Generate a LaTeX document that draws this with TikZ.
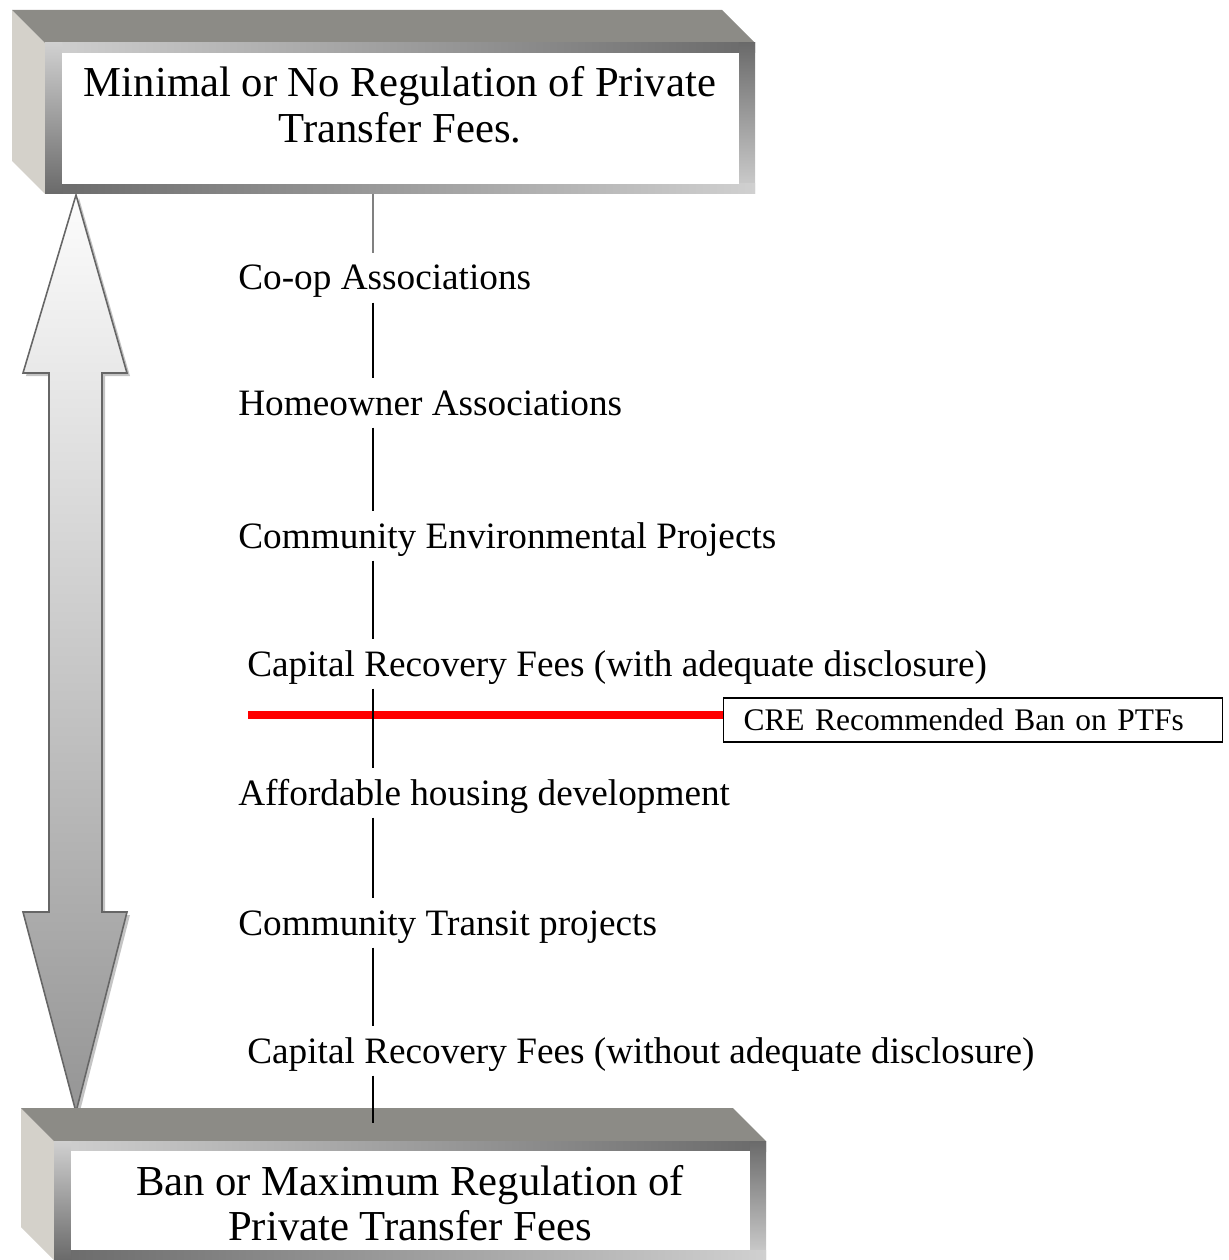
\documentclass[tikz,border=0pt]{standalone}
\usepackage{fontspec}
\setmainfont{Liberation Serif}
\usetikzlibrary{positioning}

\definecolor{slabtop}{HTML}{8C8B86}
\definecolor{slabside}{HTML}{D4D1CA}
\definecolor{frameL}{HTML}{D0D0D0}
\definecolor{frameD}{HTML}{6A6A6A}
\definecolor{arrowedge}{HTML}{666666}
\definecolor{arrowlow}{HTML}{959595}
\definecolor{arrowshadow}{HTML}{C4C4C4}

% 3D slab: front face from (#1,#2) to (#3,#4), 33 deep
\newcommand{\slab}[4]{%
  \fill[slabside] ({#1-33},{#2-33}) -- (#1,#2) -- (#1,#4) -- ({#1-33},{#4-33}) -- cycle;
  \fill[slabtop] ({#1-33},{#2-33}) -- ({#3-33},{#2-33}) -- (#3,#2) -- (#1,#2) -- cycle;
  \shade[left color=frameL, right color=frameD] (#1,#2) rectangle (#3,{#2+10});
  \shade[top color=frameD, bottom color=frameL] ({#3-16},#2) rectangle (#3,#4);
  \shade[left color=frameD, right color=frameL] (#1,{#4-10}) rectangle (#3,#4);
  \shade[top color=frameL, bottom color=frameD] (#1,#2) rectangle ({#1+17},#4);
  \fill[white] ({#1+17},{#2+10}) rectangle ({#3-16},{#4-10});
}

\tikzset{
  item/.style={anchor=base west, inner xsep=0pt, inner ysep=3pt,
    text height=18pt, text depth=4pt, font=\fontsize{21.2}{25}\selectfont},
  title/.style={align=center, inner sep=0pt, font=\fontsize{24.3}{25.9}\selectfont},
  spine/.style={line width=0.6pt},
  banbox/.style={draw, line width=0.6pt, anchor=west, align=left,
    text width=9.18cm, inner xsep=0.4cm, inner ysep=1pt, minimum height=0.88cm,
    font=\fontsize{17.9}{22}\selectfont},
  redbar/.style={red, line width=4pt},
}

\begin{document}
\begin{tikzpicture}[x=0.02cm, y=-0.02cm]
	\useasboundingbox (0,0) rectangle (1229,1260);
	% double arrow on the left
	\shadedraw[top color=white!99!black, bottom color=arrowlow, draw=arrowedge, line width=0.9pt,
		preaction={fill=arrowshadow, transform canvas={shift={(0.06cm,-0.06cm)}}}]
		(76,195) -- (127,373) -- (102,373) -- (102,912) -- (127,912) -- (76,1112)
		-- (23,912) -- (49,912) -- (49,373) -- (23,373) -- cycle;
	% the two slabs
	\slab{45}{43}{755}{194}
	\slab{54}{1141}{766}{1260}
	\node[title] (minreg) at (400,105) {Minimal or No Regulation of Private\\Transfer Fees.};
	\node[title] (maxreg) at (410,1203) {Ban or Maximum Regulation of\\Private Transfer Fees};
	\coordinate (topfoot) at (373,194);
	\coordinate (botfoot) at (373,1123);
	% items along the scale
	\node[item] (coop) at (238,290) {Co-op Associations};
	\node[item] (hoa) at (238,415) {Homeowner Associations};
	\node[item] (env) at (238,548) {Community Environmental Projects};
	\node[item] (crfwith) at (247,676) {Capital Recovery Fees (with adequate disclosure)};
	\node[item] (afford) at (238,805) {Affordable housing development};
	\node[item] (transit) at (238,935) {Community Transit projects};
	\node[item] (crfwithout) at (247,1063) {Capital Recovery Fees (without adequate disclosure)};
	% recommended cut-off
	\node[banbox] (ban) at (723,720) {CRE Recommended Ban on PTFs};
	\coordinate (redstart) at (248,715);
	\draw[redbar] (redstart) -- (redstart -| ban.west);
	% spine
	\draw[spine, gray] (topfoot) -- (coop.north -| topfoot);
	\foreach \a/\b in {coop/hoa, hoa/env, env/crfwith, crfwith/afford, afford/transit, transit/crfwithout}
		\draw[spine] (\a.south -| topfoot) -- (\b.north -| topfoot);
	\draw[spine] (crfwithout.south -| topfoot) -- (botfoot);
\end{tikzpicture}
\end{document}
